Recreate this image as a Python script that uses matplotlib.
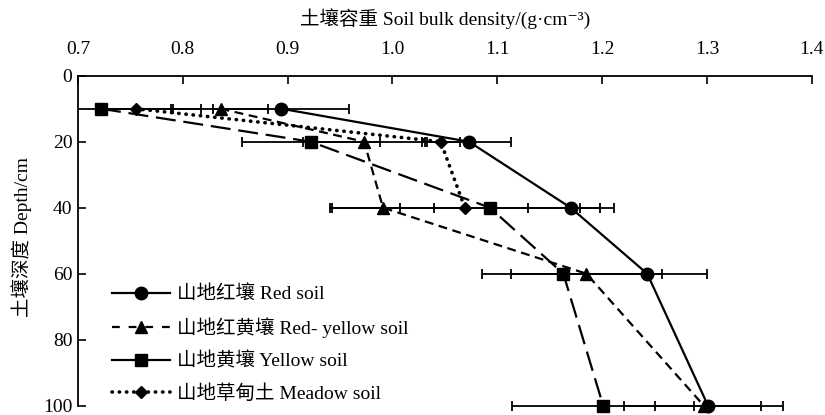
import matplotlib
matplotlib.use("Agg")
import matplotlib.pyplot as plt
from matplotlib.lines import Line2D
from matplotlib.patches import Rectangle

plt.rcParams['font.family'] = ['Liberation Serif', 'Noto Sans CJK SC', 'DejaVu Serif']
plt.rcParams['font.size'] = 14

# depths (cm)
depth = [10, 20, 40, 60, 100]
depth_meadow = [10, 20, 40]

# bulk density (g/cm3) and error
red = [0.894, 1.073, 1.170, 1.243, 1.301]
red_err = [0.065, 0.040, 0.041, 0.057, 0.051]
red_yellow = [0.836, 0.973, 0.991, 1.185, 1.297]
red_yellow_err = [0.045, 0.058, 0.049, 0.072, 0.076]
yellow = [0.722, 0.922, 1.093, 1.163, 1.201]
yellow_err = [0.095, 0.066, 0.086, 0.078, 0.087]
meadow = [0.755, 1.046, 1.069]
meadow_err = [0.034, 0.018, 0.129]

labels = ['山地红壤 Red soil', '山地红黄壤 Red- yellow soil',
          '山地黄壤 Yellow soil', '山地草甸土 Meadow soil']

fig = plt.figure(figsize=(8.25, 4.15), dpi=100)
ax = fig.add_axes([0.0945, 0.0225, 0.8895, 0.795])

# clip region a bit taller than the axes so markers at 100 cm are not cut
clip = Rectangle((0, -0.06), 1, 1.12, transform=ax.transAxes)

series = [
    (red, red_err, depth, 'o', 9, '-', 1.6),
    (red_yellow, red_yellow_err, depth, '^', 9, (0, (4, 2.5)), 1.6),
    (yellow, yellow_err, depth, 's', 8.5, (0, (9, 3.5)), 1.6),
    (meadow, meadow_err, depth_meadow, 'D', 6.5, (0, (0.1, 1.9)), 2.6),
]
# the legend samples are drawn a little differently than the plot lines
legend_styles = ['-', (0, (3.5, 4)), '-', (0, (0.1, 1.9))]

handles = []
for (x, xe, y, mk, ms, ls, lw), lab, lls in zip(series, labels, legend_styles):
    eb = ax.errorbar(x, y, xerr=xe, fmt='none', ecolor='black',
                     elinewidth=1.3, capsize=3.3, capthick=1.3)
    for art in eb.lines[1] + eb.lines[2]:
        art.set_clip_path(clip)
    capstyle = 'round' if mk == 'D' else 'butt'
    line, = ax.plot(x, y, color='black', linestyle=ls, linewidth=lw,
                    marker=mk, markersize=ms, markerfacecolor='black',
                    dash_capstyle=capstyle)
    line.set_clip_path(clip)
    handles.append(Line2D([], [], color='black', linestyle=lls, linewidth=lw,
                          marker=mk, markersize=ms, dash_capstyle=capstyle,
                          label=lab))

ax.set_xlim(0.7, 1.4)
ax.set_ylim(100, 0)
ax.set_xticks([0.7, 0.8, 0.9, 1.0, 1.1, 1.2, 1.3, 1.4])
ax.set_yticks([0, 20, 40, 60, 80, 100])
ax.xaxis.tick_top()
ax.xaxis.set_label_position('top')
ax.tick_params(direction='in', length=6, width=1.2, labelsize=14, pad=4)
ax.tick_params(axis='x', pad=13)

for side in ['right', 'bottom']:
    ax.spines[side].set_visible(False)
for side in ['left', 'top']:
    ax.spines[side].set_linewidth(1.3)

ax.set_xlabel('土壤容重 Soil bulk density/(g·cm⁻³)', fontsize=14, labelpad=11)
ax.set_ylabel('土壤深度 Depth/cm', fontsize=14)
ax.yaxis.set_label_coords(-0.063, 0.512)

ax.legend(handles=handles, loc='upper left', bbox_to_anchor=(0.033, 0.394),
          frameon=False, handlelength=3.0, handletextpad=0.35,
          labelspacing=0.72, borderpad=0, fontsize=14)

fig.savefig('out.png', dpi=100)
